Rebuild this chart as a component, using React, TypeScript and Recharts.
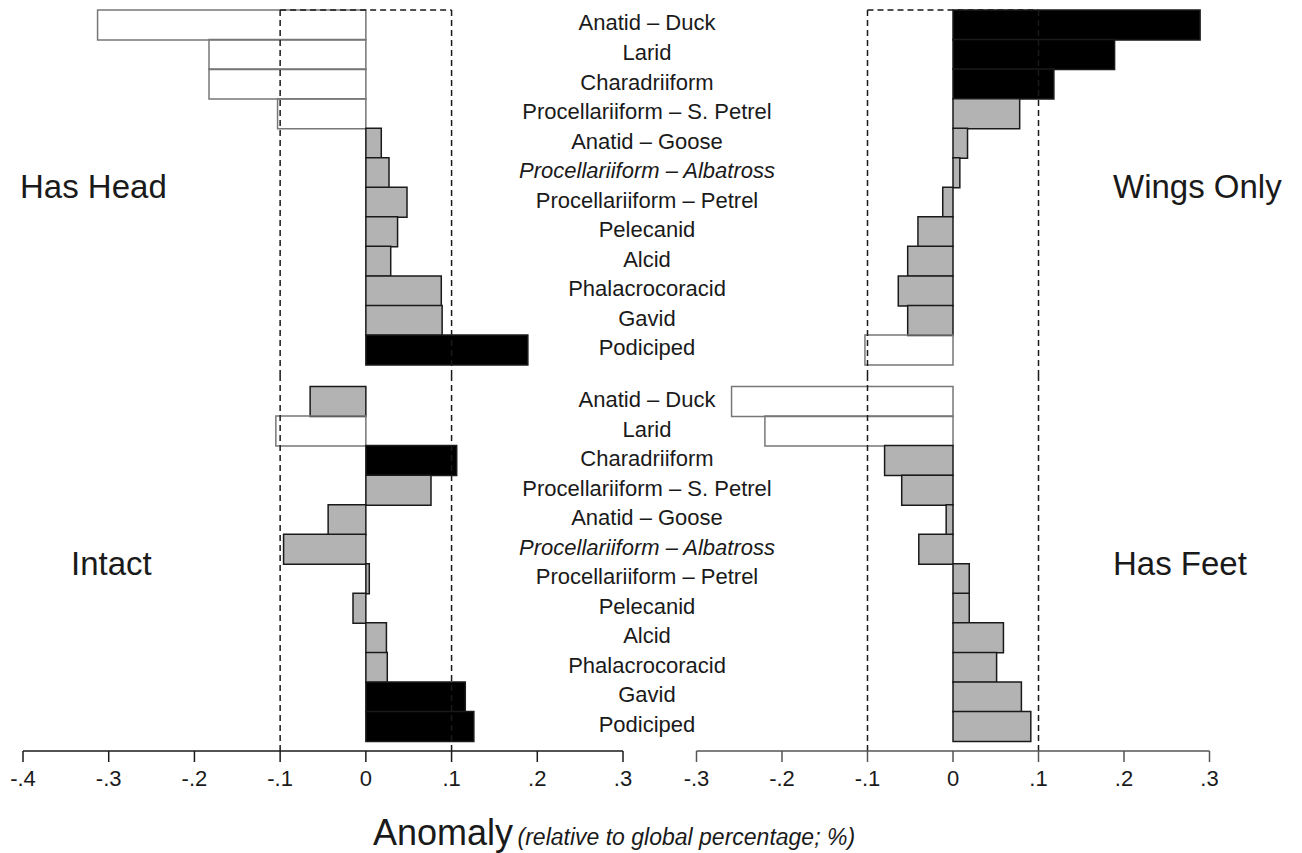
import { BarChart, Bar, XAxis, YAxis, Cell, ReferenceLine } from "recharts";

// categories, top to bottom
const categories = [
  "Anatid – Duck",
  "Larid",
  "Charadriiform",
  "Procellariiform – S. Petrel",
  "Anatid – Goose",
  "Procellariiform – Albatross",
  "Procellariiform – Petrel",
  "Pelecanid",
  "Alcid",
  "Phalacrocoracid",
  "Gavid",
  "Podiciped",
];
const italicCategories = ["Procellariiform – Albatross"];

// anomaly values (fraction), same order as categories
const hasHead = [-0.313, -0.183, -0.183, -0.103, 0.018, 0.027, 0.048, 0.037, 0.029, 0.088, 0.089, 0.189];
const intact = [-0.065, -0.105, 0.106, 0.076, -0.044, -0.096, 0.004, -0.015, 0.024, 0.025, 0.116, 0.126];
const wingsOnly = [0.289, 0.189, 0.118, 0.078, 0.017, 0.008, -0.012, -0.041, -0.053, -0.064, -0.053, -0.103];
const hasFeet = [-0.259, -0.22, -0.08, -0.06, -0.008, -0.04, 0.019, 0.019, 0.059, 0.051, 0.08, 0.091];

const leftTicks = [-0.4, -0.3, -0.2, -0.1, 0, 0.1, 0.2, 0.3];
const rightTicks = [-0.3, -0.2, -0.1, 0, 0.1, 0.2, 0.3];
const significance = 0.1;

const FONT = '"Liberation Sans", Arial, sans-serif';
const INK = "#1a1a1a";
const LABEL_X = 647;

const fmtTick = (v: number) =>
  v === 0 ? "0" : (v < 0 ? "-" : "") + "." + Math.round(Math.abs(v) * 10);

const fillFor = (v: number) => (v > significance ? "#000000" : v < -significance ? "none" : "#b3b3b3");
const strokeFor = (v: number) => (v < -significance ? "#777777" : INK);

const renderCategoryTick = (props: any) => {
  const { y, payload } = props;
  const italic = italicCategories.includes(payload.value);
  return (
    <text
      x={LABEL_X}
      y={y - 2}
      dy="0.35em"
      textAnchor="middle"
      fontSize={22}
      fontFamily={FONT}
      fontStyle={italic ? "italic" : "normal"}
      fill={INK}
    >
      {payload.value}
    </text>
  );
};

function Panel({ values, side, row }: { values: number[]; side: "left" | "right"; row: "top" | "bottom" }) {
  const data = categories.map((name, i) => ({ name, value: values[i] }));
  const isLeft = side === "left";
  const isTop = row === "top";
  const domain = isLeft ? [-0.4, 0.3] : [-0.3, 0.3];
  const ticks = isLeft ? leftTicks : rightTicks;
  const axisColor = isLeft ? INK : "#555555";
  const dash = { stroke: INK, strokeWidth: 1.5, strokeDasharray: "6 4" };
  const edgeCategory = isTop ? categories[0] : categories[categories.length - 1];

  return (
    <div style={{ position: "absolute", left: 0, top: isTop ? 0 : 376 }}>
      <BarChart
        width={isLeft ? 800 : 1302}
        height={isTop ? 376 : 477}
        data={data}
        layout="vertical"
        barCategoryGap={0}
        margin={{
          left: isLeft ? 23 : 696.5,
          right: isLeft ? 0 : 92.5,
          top: isTop ? 10 : 0,
          bottom: 0,
        }}
      >
        <XAxis
          type="number"
          domain={domain}
          ticks={ticks}
          allowDataOverflow
          hide={isTop}
          height={102}
          interval={0}
          tickFormatter={fmtTick}
          tickSize={11}
          tickMargin={8}
          axisLine={{ stroke: axisColor, strokeWidth: 1.5 }}
          tickLine={{ stroke: axisColor, strokeWidth: 1.5 }}
          tick={{ fontSize: 22, fill: INK, fontFamily: FONT }}
        />
        <YAxis
          yAxisId="cat"
          type="category"
          dataKey="name"
          orientation="right"
          width={177}
          hide={!isLeft}
          interval={0}
          axisLine={false}
          tickLine={false}
          tick={renderCategoryTick}
          padding={isTop ? { top: 0, bottom: 11.5 } : { top: 10.5, bottom: 10 }}
        />

        {/* dashed +/- 0.1 frame */}
        <ReferenceLine yAxisId="cat" x={-significance} {...dash} />
        <ReferenceLine yAxisId="cat" x={significance} {...dash} />
        <ReferenceLine
          yAxisId="cat"
          position={isTop ? "start" : "end"}
          segment={[
            { x: -significance, y: edgeCategory },
            { x: significance, y: edgeCategory },
          ]}
          {...dash}
        />

        <Bar dataKey="value" yAxisId="cat" isAnimationActive={false}>
          {data.map((d, i) => (
            <Cell key={i} fill={fillFor(d.value)} stroke={strokeFor(d.value)} strokeWidth={1.5} />
          ))}
        </Bar>
      </BarChart>
    </div>
  );
}

const titleStyle = (left: number, top: number): React.CSSProperties => ({
  position: "absolute",
  left,
  top,
  fontSize: 33,
  lineHeight: 1,
  color: INK,
  whiteSpace: "nowrap",
});

export default function App() {
  return (
    <div
      style={{
        position: "absolute",
        left: 0,
        top: 0,
        width: 1302,
        height: 853,
        background: "#ffffff",
        fontFamily: FONT,
        overflow: "hidden",
      }}
    >
      <Panel values={hasHead} side="left" row="top" />
      <Panel values={intact} side="left" row="bottom" />
      <Panel values={wingsOnly} side="right" row="top" />
      <Panel values={hasFeet} side="right" row="bottom" />

      <div style={titleStyle(20, 170)}>Has Head</div>
      <div style={titleStyle(1113, 170)}>Wings Only</div>
      <div style={titleStyle(71, 547)}>Intact</div>
      <div style={titleStyle(1113, 547)}>Has Feet</div>

      {/* AXIS TITLE */}
      <div style={{ position: "absolute", left: 373, top: 815, whiteSpace: "nowrap", color: INK, lineHeight: 1 }}>
        <span style={{ fontSize: 36 }}>Anomaly</span>{" "}
        <span style={{ fontSize: 23, fontStyle: "italic" }}>(relative to global percentage; %)</span>
      </div>
    </div>
  );
}
